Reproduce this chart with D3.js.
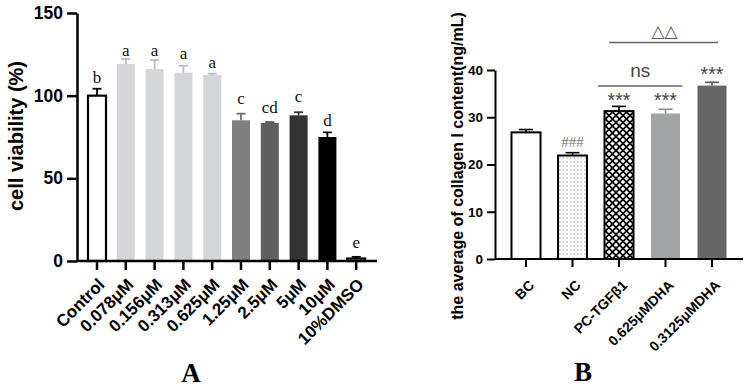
<!DOCTYPE html>
<html>
<head>
<meta charset="utf-8">
<script src="https://cdn.jsdelivr.net/npm/d3@7"></script>
<style>
  body { margin: 0; background: #fff; }
</style>
</head>
<body>
<div id="canvas"></div>
<script>
"use strict"

/* Panel A data: cell viability */
let groupsA = ["Control", "0.078μM", "0.156μM", "0.313μM", "0.625μM", "1.25μM", "2.5μM", "5μM", "10μM", "10%DMSO"];
let valuesA = [100, 119.2, 116.1, 113.9, 112.5, 85.1, 83.5, 88.1, 75.0, 1.5];
let errorsA = [4.2, 3.0, 5.5, 4.2, 0.8, 4.0, 0.5, 1.9, 2.8, 1.0];
let lettersA = ["b", "a", "a", "a", "a", "c", "cd", "c", "d", "e"];
let letterAtA = [107.5, 124.2, 124.2, 122.2, 116.9, 94.8, 89.3, 96.3, 81.7, 7.7];
let ticksA = [0, 50, 100, 150];

/* Panel B data: collagen I content */
let groupsB = ["BC", "NC", "PC-TGFβ1", "0.625μMDHA", "0.3125μMDHA"];
let valuesB = [26.8, 21.9, 31.3, 30.8, 36.7];
let errorsB = [0.6, 0.6, 1.0, 0.9, 0.7];
let marksB = ["", "###", "***", "***", "***"];
let markAtB = [0, 23.7, 32.1, 32.1, 37.6];
let ticksB = [0, 10, 20, 30, 40];

let svgWidth = 748;
let svgHeight = 388;
let sans = "'Liberation Sans', Arial, sans-serif";
let serif = "'Liberation Serif', 'Times New Roman', serif";

let svg = d3.select("#canvas")
    .append("svg")
    .attr("width", svgWidth)
    .attr("height", svgHeight);

/* patterns for panel B */
let defs = svg.append("defs");

let dots = defs.append("pattern")
    .attr("id", "dots")
    .attr("patternUnits", "userSpaceOnUse")
    .attr("width", 3.6)
    .attr("height", 4);
dots.append("rect").attr("width", 3.6).attr("height", 4).attr("fill", "#fff");
dots.append("circle").attr("cx", 1.8).attr("cy", 2).attr("r", 0.65).attr("fill", "#9a9a9a");

let diamonds = defs.append("pattern")
    .attr("id", "diamonds")
    .attr("patternUnits", "userSpaceOnUse")
    .attr("width", 7)
    .attr("height", 7);
diamonds.append("rect").attr("width", 7).attr("height", 7).attr("fill", "#000");
[[0, 0], [7, 0], [0, 7], [7, 7], [3.5, 3.5]].forEach(function (c) {
  let h = 2.3;
  diamonds.append("polygon")
    .attr("points", [[c[0], c[1] - h], [c[0] + h, c[1]], [c[0], c[1] + h], [c[0] - h, c[1]]].join(" "))
    .attr("fill", "#fff");
});

/* ---------------- Panel A ---------------- */
let fillA = ["#fff", "#d4d6d9", "#d4d6d9", "#d4d6d9", "#d4d6d9", "#7f7f7f", "#5f5f5f", "#333333", "#000", "#fff"];
let strokeA = ["#000", "#d4d6d9", "#d4d6d9", "#d4d6d9", "#d4d6d9", "#7f7f7f", "#5f5f5f", "#333333", "#000", "#000"];
let errColA = ["#000", "#b8babd", "#b8babd", "#b8babd", "#b8babd", "#6f6f6f", "#555", "#333", "#000", "#000"];

let axisXA = 77;
let xA = d3.scaleBand()
    .domain(groupsA)
    .range([82.6, 370.6])
    .paddingInner(0.375)
    .paddingOuter(0.1875);
let yA = d3.scaleLinear()
    .domain([0, 150])
    .range([261, 13]);

let gA = svg.append("g");

// error bars first, bars drawn over them
groupsA.forEach(function (g, i) {
  let cx = xA(g) + xA.bandwidth() / 2;
  gA.append("line")
    .attr("x1", cx).attr("x2", cx)
    .attr("y1", yA(valuesA[i])).attr("y2", yA(valuesA[i] + errorsA[i]))
    .attr("stroke", errColA[i]).attr("stroke-width", 1.8);
  gA.append("line")
    .attr("x1", cx - 4.5).attr("x2", cx + 4.5)
    .attr("y1", yA(valuesA[i] + errorsA[i])).attr("y2", yA(valuesA[i] + errorsA[i]))
    .attr("stroke", errColA[i]).attr("stroke-width", 1.8);
});

gA.selectAll("rect.bar")
  .data(groupsA)
  .enter()
  .append("rect")
  .attr("class", "bar")
  .attr("x", function (d) { return xA(d); })
  .attr("y", function (d, i) { return yA(valuesA[i]); })
  .attr("width", xA.bandwidth())
  .attr("height", function (d, i) { return yA(0) - yA(valuesA[i]); })
  .attr("fill", function (d, i) { return fillA[i]; })
  .attr("stroke", function (d, i) { return strokeA[i]; })
  .attr("stroke-width", function (d, i) { return strokeA[i] === "#000" && fillA[i] === "#fff" ? 2.2 : 0; });

// significance letters
gA.selectAll("text.letter")
  .data(groupsA)
  .enter()
  .append("text")
  .attr("class", "letter")
  .attr("x", function (d) { return xA(d) + xA.bandwidth() / 2; })
  .attr("y", function (d, i) { return yA(letterAtA[i]); })
  .attr("text-anchor", "middle")
  .style("font-family", serif)
  .style("font-size", "17px")
  .style("fill", "#111")
  .text(function (d, i) { return lettersA[i]; });

// y axis
let yAxisA = gA.append("g")
  .attr("transform", "translate(" + axisXA + ",0)")
  .call(d3.axisLeft(yA).tickValues(ticksA).tickSize(10).tickSizeOuter(0).tickPadding(4));
yAxisA.selectAll("path, line").attr("stroke", "#000").attr("stroke-width", 2.5);
yAxisA.selectAll("text")
  .style("font-family", sans).style("font-size", "17.5px").style("font-weight", "bold").attr("fill", "#000");

// x axis
let xAxisA = gA.append("g")
  .attr("transform", "translate(0," + yA(0) + ")")
  .call(d3.axisBottom(xA).tickSize(9).tickSizeOuter(0));
xAxisA.select(".domain").remove();
xAxisA.selectAll("line").attr("stroke", "#000").attr("stroke-width", 2.5);
xAxisA.selectAll("text")
  .attr("x", 0).attr("y", 0).attr("dy", "0.72em")
  .attr("text-anchor", "end")
  .attr("transform", "translate(0,16) rotate(-45)")
  .style("font-family", sans).style("font-size", "17px").style("font-weight", "bold").attr("fill", "#000");
gA.append("line")
  .attr("x1", axisXA).attr("x2", 377)
  .attr("y1", yA(0)).attr("y2", yA(0))
  .attr("stroke", "#000").attr("stroke-width", 2.5);

gA.append("text")
  .attr("transform", "translate(23,136) rotate(-90)")
  .attr("text-anchor", "middle")
  .style("font-family", sans).style("font-size", "20px").style("font-weight", "bold")
  .text("cell viability (%)");

svg.append("text")
  .attr("x", 191).attr("y", 382)
  .attr("text-anchor", "middle")
  .style("font-family", serif).style("font-size", "27px").style("font-weight", "bold")
  .text("A");

/* ---------------- Panel B ---------------- */
let fillB = ["#fff", "url(#dots)", "url(#diamonds)", "#a2a3a5", "#666666"];
let strokeB = ["#000", "#000", "#000", "#a2a3a5", "#666666"];
let errColB = ["#000", "#000", "#000", "#8e8f91", "#555"];

let axisXB = 495;
let xB = d3.scaleBand()
    .domain(groupsB)
    .range([502.75, 735.25])
    .paddingInner(0.376)
    .paddingOuter(0.188);
let yB = d3.scaleLinear()
    .domain([0, 40])
    .range([259, 70]);

let gB = svg.append("g");

groupsB.forEach(function (g, i) {
  let cx = xB(g) + xB.bandwidth() / 2;
  gB.append("line")
    .attr("x1", cx).attr("x2", cx)
    .attr("y1", yB(valuesB[i])).attr("y2", yB(valuesB[i] + errorsB[i]))
    .attr("stroke", errColB[i]).attr("stroke-width", 1.6);
  gB.append("line")
    .attr("x1", cx - 7).attr("x2", cx + 7)
    .attr("y1", yB(valuesB[i] + errorsB[i])).attr("y2", yB(valuesB[i] + errorsB[i]))
    .attr("stroke", errColB[i]).attr("stroke-width", 1.6);
});

gB.selectAll("rect.bar")
  .data(groupsB)
  .enter()
  .append("rect")
  .attr("class", "bar")
  .attr("x", function (d) { return xB(d); })
  .attr("y", function (d, i) { return yB(valuesB[i]); })
  .attr("width", xB.bandwidth())
  .attr("height", function (d, i) { return yB(0) - yB(valuesB[i]); })
  .attr("fill", function (d, i) { return fillB[i]; })
  .attr("stroke", function (d, i) { return strokeB[i]; })
  .attr("stroke-width", function (d, i) { return strokeB[i] === "#000" ? 2 : 0; });

// ### and *** marks
gB.selectAll("text.mark")
  .data(groupsB)
  .enter()
  .append("text")
  .attr("class", "mark")
  .attr("x", function (d) { return xB(d) + xB.bandwidth() / 2; })
  .attr("y", function (d, i) { return yB(markAtB[i]); })
  .attr("text-anchor", "middle")
  .style("font-family", function (d, i) { return marksB[i] === "###" ? serif : sans; })
  .style("font-size", function (d, i) { return marksB[i] === "###" ? "15px" : "19.5px"; })
  .style("fill", function (d, i) { return marksB[i] === "###" ? "#777" : "#444"; })
  .text(function (d, i) { return marksB[i]; });

// comparison brackets
let cPC = xB("PC-TGFβ1") + xB.bandwidth() / 2;
let cLow = xB("0.625μMDHA") + xB.bandwidth() / 2;
let cHigh = xB("0.3125μMDHA") + xB.bandwidth() / 2;

gB.append("line")
  .attr("x1", cPC - 21).attr("x2", cLow + 17)
  .attr("y1", yB(36.6)).attr("y2", yB(36.6))
  .attr("stroke", "#666").attr("stroke-width", 1.5);
gB.append("text")
  .attr("x", (cPC + cLow) / 2 - 2).attr("y", yB(38.5))
  .attr("text-anchor", "middle")
  .style("font-family", sans).style("font-size", "19px").style("fill", "#444")
  .text("ns");

gB.append("line")
  .attr("x1", cPC - 10).attr("x2", cHigh + 6)
  .attr("y1", yB(45.8)).attr("y2", yB(45.8))
  .attr("stroke", "#666").attr("stroke-width", 1.5);
gB.append("text")
  .attr("x", (cPC + cHigh) / 2 - 1).attr("y", yB(46.9))
  .attr("text-anchor", "middle")
  .style("font-family", "'DejaVu Sans', sans-serif").style("font-size", "17px").style("fill", "#555")
  .text("△△");

// y axis
let yAxisB = gB.append("g")
  .attr("transform", "translate(" + axisXB + ",0)")
  .call(d3.axisLeft(yB).tickValues(ticksB).tickSize(8).tickSizeOuter(0).tickPadding(4));
yAxisB.selectAll("path, line").attr("stroke", "#000").attr("stroke-width", 2);
yAxisB.selectAll("text")
  .style("font-family", sans).style("font-size", "13.5px").style("font-weight", "bold").attr("fill", "#000");

// x axis
let xAxisB = gB.append("g")
  .attr("transform", "translate(0," + yB(0) + ")")
  .call(d3.axisBottom(xB).tickSize(8).tickSizeOuter(0));
xAxisB.select(".domain").remove();
xAxisB.selectAll("line").attr("stroke", "#000").attr("stroke-width", 2);
xAxisB.selectAll("text")
  .attr("x", 0).attr("y", 0).attr("dy", "0.72em")
  .attr("text-anchor", "end")
  .attr("transform", "translate(2,20) rotate(-45)")
  .style("font-family", sans).style("font-size", "14px").style("font-weight", "bold").attr("fill", "#000");
gB.append("line")
  .attr("x1", axisXB).attr("x2", 743)
  .attr("y1", yB(0)).attr("y2", yB(0))
  .attr("stroke", "#000").attr("stroke-width", 2);

gB.append("text")
  .attr("transform", "translate(463,166) rotate(-90)")
  .attr("text-anchor", "middle")
  .style("font-family", sans).style("font-size", "16px").style("font-weight", "bold")
  .text("the average of collagen I content(ng/mL)");

svg.append("text")
  .attr("x", 583).attr("y", 381)
  .attr("text-anchor", "middle")
  .style("font-family", serif).style("font-size", "27px").style("font-weight", "bold")
  .text("B");
</script>
</body>
</html>
